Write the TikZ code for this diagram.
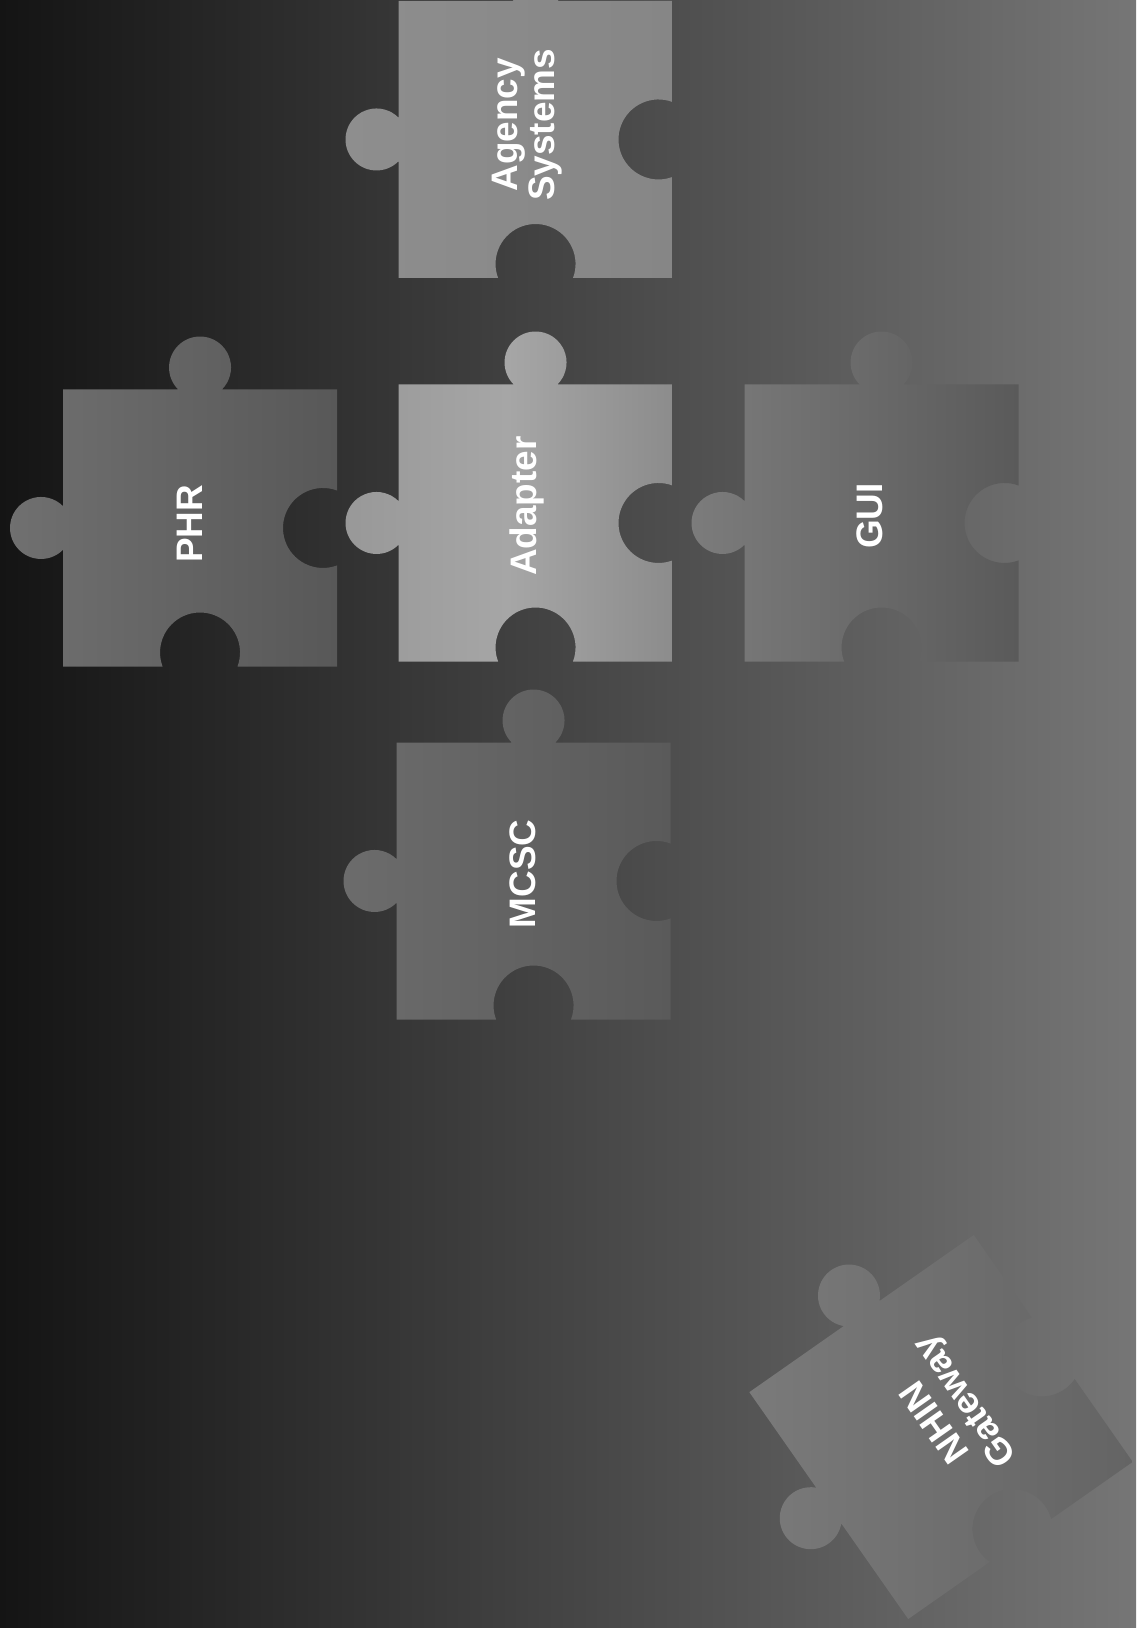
\documentclass[tikz,border=0pt]{standalone}
\usepackage{fontspec}
\setmainfont{Liberation Sans}
\usetikzlibrary{positioning}
\definecolor{bgdark} {RGB}{ 20, 20, 20}
\definecolor{bgmid}  {RGB}{ 50, 50, 50}
\definecolor{bglite} {RGB}{118,118,118}
\definecolor{agyL}   {RGB}{142,142,142}
\definecolor{agyR}   {RGB}{134,134,134}
\definecolor{phrL}   {RGB}{112,112,112}
\definecolor{phrR}   {RGB}{ 88, 88, 88}
\definecolor{adpL}   {RGB}{152,152,152}
\definecolor{adpM}   {RGB}{166,166,166}
\definecolor{adpR}   {RGB}{140,140,140}
\definecolor{guiL}   {RGB}{124,124,124}
\definecolor{guiR}   {RGB}{ 90, 90, 90}
\definecolor{mcsL}   {RGB}{108,108,108}
\definecolor{mcsR}   {RGB}{ 90, 90, 90}
\definecolor{nhL}    {RGB}{122,122,122}
\definecolor{nhR}    {RGB}{100,100,100}
% outline of one jigsaw piece, centred on (0,0)
\newcommand{\jigpath}{(-137,138.5) -- (-21.8,138.5)
  arc[start angle=225.2,end angle=-45.2,radius=31] -- (137,138.5)
  -- (137,37.5) arc[start angle=69.5,end angle=290.5,radius=40]
  -- (137,-138.5) -- (37.5,-138.5)
  arc[start angle=-20.5,end angle=200.5,radius=40] -- (-137,-138.5)
  -- (-137,-21.8) arc[start angle=-44.8,end angle=-315.2,radius=31]
  -- cycle}
\tikzset{
  % piece shading, left to right
  PZ/.style 2 args={left color=#1,right color=#2},
  % white piece label
  LB/.style={text=white,font=\bfseries\fontsize{21}{21}\selectfont,
             align=center,rotate=90,inner sep=0pt},
}

\begin{document}
\begin{tikzpicture}[x=0.02cm,y=0.02cm]
  \useasboundingbox (0,0) rectangle (1136,-1628);
  \clip (0,0) rectangle (1136,-1628);
  % Backdrop
  \shade[left color=bgdark,middle color=bgmid,right color=bglite]
        (0,0) rectangle (1136,-1628);
  % Agency Systems piece
  \shade[PZ={agyL}{agyR},shift={(535.5,-139.5)}] \jigpath;
  \node[LB] at (527,-125) (agency) {Agency\\Systems};
  % PHR piece
  \shade[PZ={phrL}{phrR},shift={(200,-528)}] \jigpath;
  \node[LB] at (190,-524) (phr) {PHR};
  % Adapter piece
  \shade[left color=adpL,right color=adpR,middle color=adpM,
         shift={(535.5,-523)}] \jigpath;
  \node[LB] at (527,-506) (adapter) {Adapter};
  % GUI piece
  \shade[PZ={guiL}{guiR},shift={(881.5,-523)}] \jigpath;
  \node[LB] at (870,-516) (gui) {GUI};
  % MCSC piece
  \shade[PZ={mcsL}{mcsR},shift={(533.5,-881)}] \jigpath;
  \node[LB] at (523,-874) (mcsc) {MCSC};
  % NHIN Gateway piece, tilted
  \shade[PZ={nhL}{nhR},shift={(941,-1427)},rotate=35] \jigpath;
  \node[LB,rotate=35] at (952,-1410) (nhin) {NHIN\\Gateway};
\end{tikzpicture}
\end{document}
